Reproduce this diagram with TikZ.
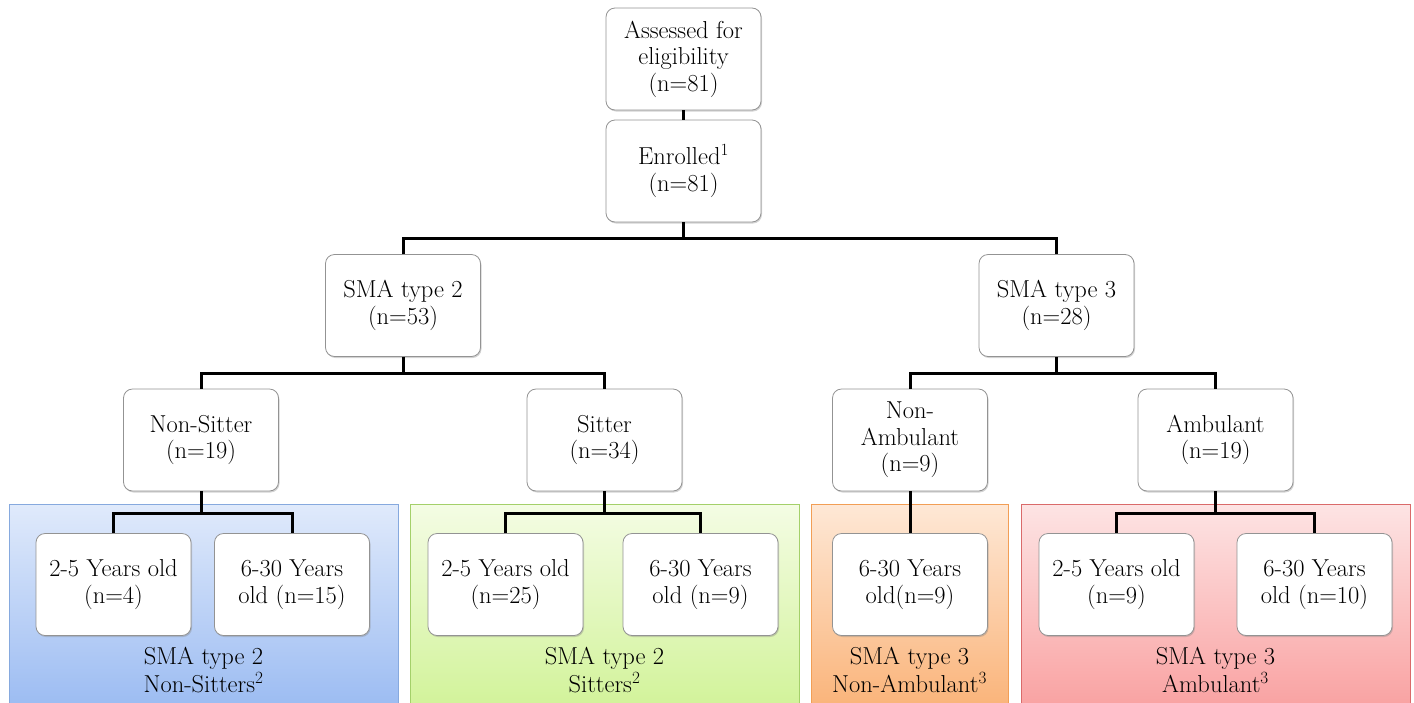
\documentclass[tikz,border=0pt]{standalone}
\usepackage{xcolor}
\usepackage{tikz}
\usetikzlibrary{shapes,positioning,shadows}
\definecolor{bluetop}{HTML}{E0EAFB}
\definecolor{bluebot}{HTML}{9CBCF2}
\definecolor{blueln}{HTML}{86A9DE}
\definecolor{greentop}{HTML}{F4FCE4}
\definecolor{greenbot}{HTML}{D2F39A}
\definecolor{greenln}{HTML}{A4D06A}
\definecolor{orangetop}{HTML}{FEE8D6}
\definecolor{orangebot}{HTML}{FAB47A}
\definecolor{orangeln}{HTML}{F29E55}
\definecolor{redtop}{HTML}{FDE4E4}
\definecolor{redbot}{HTML}{F9A2A2}
\definecolor{redln}{HTML}{DA6A6A}
\tikzset{box/.style={rectangle,rounded corners=9pt,draw=gray!85,line width=0.8pt,fill=white,minimum width=155pt,minimum height=102pt,align=center,font=\fontsize{24.5}{26.5}\selectfont,drop shadow={shadow xshift=1pt,shadow yshift=-1.5pt,opacity=0.35}}}
\tikzset{lbl/.style={align=center,font=\fontsize{24.5}{28}\selectfont}}
\tikzset{conn/.style={line width=3pt,black}}

\begin{document}
\begin{tikzpicture}[x=1pt,y=-1pt]
    \useasboundingbox (0,0) rectangle (1414,702);

    % coloured groups
    \shade[top color=bluetop,bottom color=bluebot,draw=blueln,line width=1pt] (9,504) rectangle (398,706);
    \shade[top color=greentop,bottom color=greenbot,draw=greenln,line width=1pt] (410,504) rectangle (799,706);
    \shade[top color=orangetop,bottom color=orangebot,draw=orangeln,line width=1pt] (811,504) rectangle (1008,706);
    \shade[top color=redtop,bottom color=redbot,draw=redln,line width=1pt] (1021,504) rectangle (1410,706);

    \node[lbl] (p1) at (203.5,670) {SMA type 2\\Non-Sitters\textsuperscript{2}};
    \node[lbl] (p2) at (604.5,670) {SMA type 2\\Sitters\textsuperscript{2}};
    \node[lbl] (p3) at (909.5,670) {SMA type 3\\Non-Ambulant\textsuperscript{3}};
    \node[lbl] (p4) at (1215.5,670) {SMA type 3\\Ambulant\textsuperscript{3}};

    \node[box] (a) at (683.5,59) {Assessed for\\eligibility\\(n=81)};
    \node[box] (b) at (683.5,171) {Enrolled\textsuperscript{1}\\(n=81)};
    \node[box] (c) at (403,305.5) {SMA type 2\\(n=53)};
    \node[box] (d) at (1056.5,305.5) {SMA type 3\\(n=28)};
    \node[box] (e) at (201,440) {Non-Sitter\\(n=19)};
    \node[box] (f) at (604.5,440) {Sitter\\(n=34)};
    \node[box] (g) at (910,440) {Non-\\Ambulant\\(n=9)};
    \node[box] (h) at (1215.5,440) {Ambulant\\(n=19)};
    \node[box] (i) at (113.5,584.5) {2-5 Years old\\(n=4)};
    \node[box] (j) at (292,584.5) {6-30 Years\\old (n=15)};
    \node[box] (k) at (505.5,584.5) {2-5 Years old\\(n=25)};
    \node[box] (l) at (700.5,584.5) {6-30 Years\\old (n=9)};
    \node[box] (m) at (910,584.5) {6-30 Years\\old(n=9)};
    \node[box] (n) at (1116.5,584.5) {2-5 Years old\\(n=9)};
    \node[box] (o) at (1314.5,584.5) {6-30 Years\\old (n=10)};

    % bus points
    \coordinate (q1) at (683.5,238);
    \coordinate (q2) at (403,373);
    \coordinate (q3) at (1056.5,373);
    \coordinate (q4) at (201,513);
    \coordinate (q5) at (604.5,513);
    \coordinate (q6) at (1215.5,513);

    \draw [conn] (a) to [] (b);
    \draw [conn] (b) to [] (q1);
    \draw [conn] (c.north) |- (q1) -| (d.north);
    \draw [conn] (c) to [] (q2);
    \draw [conn] (e.north) |- (q2) -| (f.north);
    \draw [conn] (d) to [] (q3);
    \draw [conn] (g.north) |- (q3) -| (h.north);
    \draw [conn] (e) to [] (q4);
    \draw [conn] (i.north) |- (q4) -| (j.north);
    \draw [conn] (f) to [] (q5);
    \draw [conn] (k.north) |- (q5) -| (l.north);
    \draw [conn] (g) to [] (m);
    \draw [conn] (h) to [] (q6);
    \draw [conn] (n.north) |- (q6) -| (o.north);
\end{tikzpicture}
\end{document}
